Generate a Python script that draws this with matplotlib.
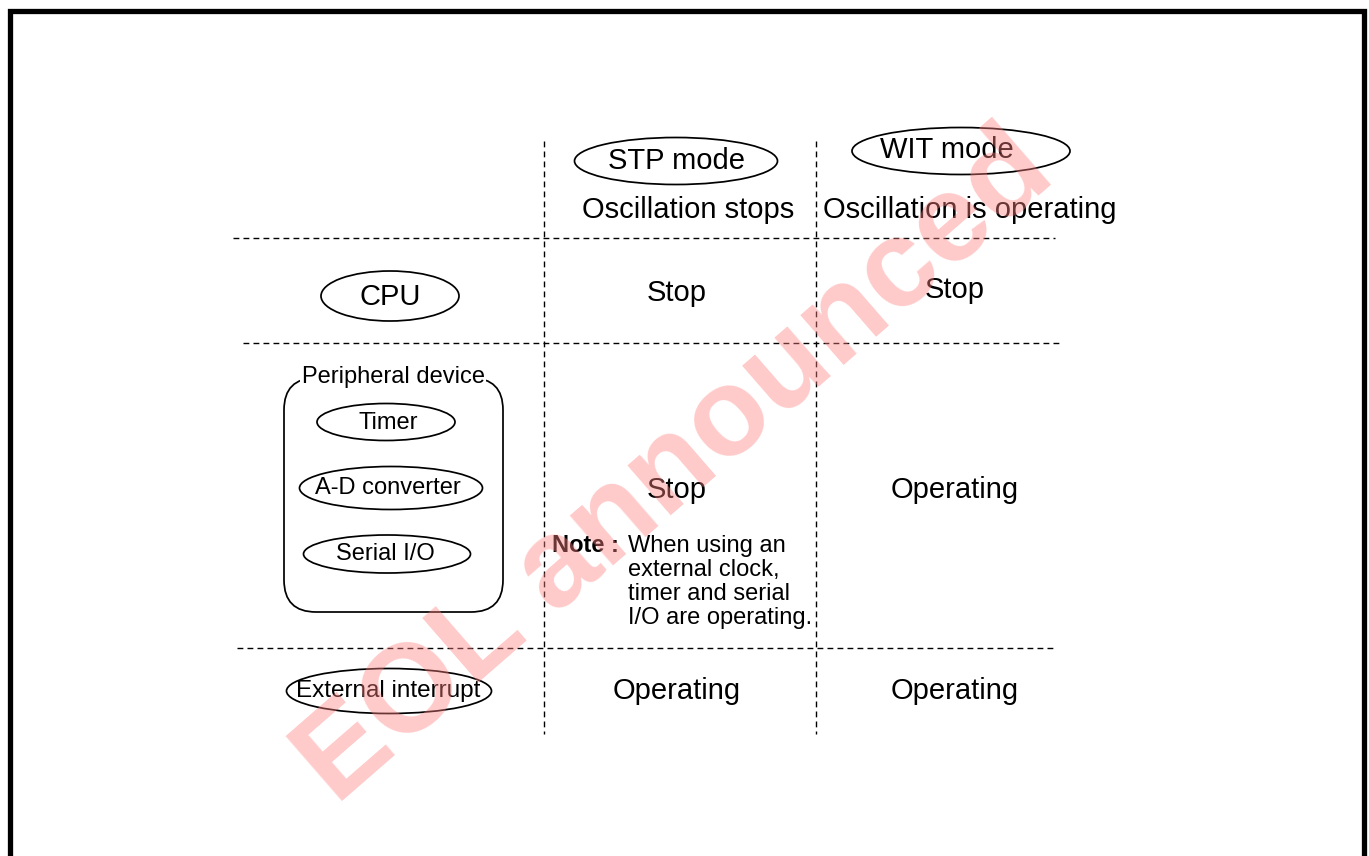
import matplotlib
matplotlib.use("Agg")
import matplotlib.pyplot as plt
from matplotlib.patches import Ellipse, FancyBboxPatch

plt.rcParams['font.family'] = ['Liberation Sans', 'DejaVu Sans']

# ---- content ----
modes = ["STP mode", "WIT mode"]
mode_notes = ["Oscillation stops", "Oscillation is operating"]
row_labels = ["CPU", "Peripheral device", "External interrupt"]
peripherals = ["Timer", "A-D converter", "Serial I/O"]
stp_state = ["Stop", "Stop", "Operating"]
wit_state = ["Stop", "Operating", "Operating"]
note_head = "Note :"
note_lines = ["When using an", "external clock,", "timer and serial", "I/O are operating."]
watermark = "EOL announced"

W, H = 1369, 856
fig = plt.figure(figsize=(W / 100, H / 100), dpi=100)
ax = fig.add_axes([0, 0, 1, 1])
ax.set_xlim(0, W)
ax.set_ylim(H, 0)
ax.axis('off')

# outer frame (left, top, right)
ax.plot([9.5, 9.5, 1363.5, 1363.5], [H + 5, 10.5, 10.5, H + 5], color='black', lw=3.8,
        solid_joinstyle='miter', zorder=2)

dash = (0, (4.2, 3.0))
lw = 1.0
# vertical dashed lines
for x in (544, 816):
    ax.plot([x, x], [141, 734], color='black', lw=lw, linestyle=dash)
# horizontal dashed lines
for y, x0, x1 in ((238, 233, 1055), (343, 243, 1062), (648, 237, 1056)):
    ax.plot([x0, x1], [y, y], color='black', lw=lw, linestyle=dash)

big = 21
mid = 17
elw = 1.25

# headers
hdr_ell = [(676, 161, 203, 47), (961, 151, 218, 47)]
hdr_txt = [(676, 161), (947, 150)]
for (cx, cy, w, h), (tx, ty), m in zip(hdr_ell, hdr_txt, modes):
    ax.add_patch(Ellipse((cx, cy), w, h, fill=False, ec='black', lw=elw))
    ax.text(tx, ty, m, ha='center', va='center', fontsize=big)
for x, t in zip((688, 970), mode_notes):
    ax.text(x, 210, t, ha='center', va='center', fontsize=big)

# rows: cell values
row_y = [293, 490, 691]
for y, s, w in zip(row_y, stp_state, wit_state):
    ax.text(677, y, s, ha='center', va='center', fontsize=big)
    ax.text(955, y if y != 293 else 290, w, ha='center', va='center', fontsize=big)

# CPU
ax.add_patch(Ellipse((390, 296), 138, 50, fill=False, ec='black', lw=elw))
ax.text(390, 297, row_labels[0], ha='center', va='center', fontsize=big)

# peripheral device box
ax.add_patch(FancyBboxPatch((284, 378), 219, 234,
                            boxstyle="round,pad=0,rounding_size=32",
                            fill=False, ec='black', lw=elw))
ax.text(393, 377, row_labels[1], ha='center', va='center', fontsize=mid,
        bbox=dict(boxstyle='square,pad=0.05', fc='white', ec='none'))
per_ell = [(386, 422, 138, 37), (391, 488, 183, 43), (387, 554, 167, 38)]
per_txt = [(388, 423), (388, 488), (385, 554)]
for (cx, cy, w, h), (tx, ty), p in zip(per_ell, per_txt, peripherals):
    ax.add_patch(Ellipse((cx, cy), w, h, fill=False, ec='black', lw=elw))
    ax.text(tx, ty, p, ha='center', va='center', fontsize=mid)

# note
ax.text(552, 546, note_head, ha='left', va='center', fontsize=mid, fontweight='bold')
for i, line in enumerate(note_lines):
    ax.text(628, 546 + 24 * i, line, ha='left', va='center', fontsize=mid)

# external interrupt
ax.add_patch(Ellipse((389, 691), 205, 45, fill=False, ec='black', lw=elw))
ax.text(388, 691, row_labels[2], ha='center', va='center', fontsize=17.5)

# watermark
ax.text(676, 468, watermark, ha='center', va='center', fontsize=90, fontweight='bold',
        rotation=41, rotation_mode='anchor', color=(1.0, 0.5, 0.5), alpha=0.42,
        zorder=10)

fig.savefig("out.png", dpi=100)
